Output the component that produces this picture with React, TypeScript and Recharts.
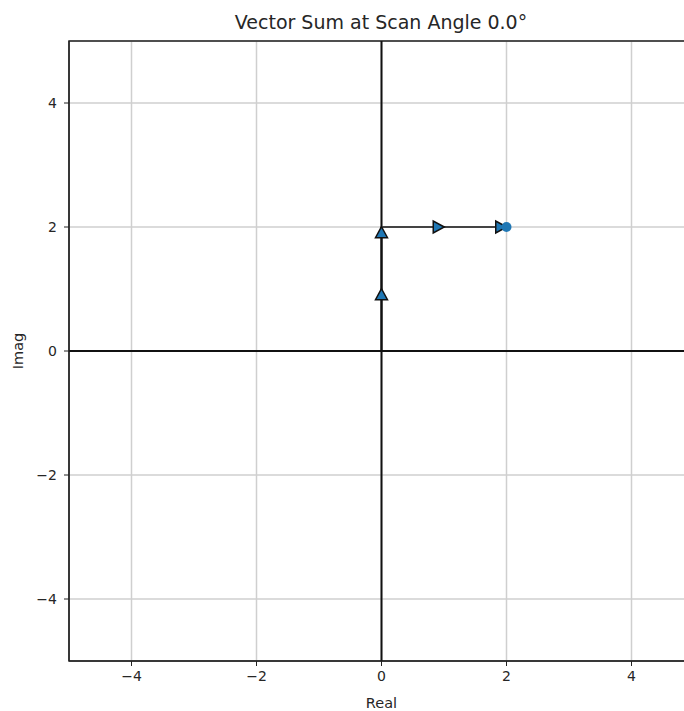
import React from "react";
import {
  ScatterChart,
  Scatter,
  XAxis,
  YAxis,
  CartesianGrid,
  ReferenceLine,
  ReferenceArea,
} from "recharts";

const ticks = [-4, -2, 0, 2, 4];
// first vector: straight up the imaginary axis, second along real
const verticalLeg = [
  { x: 0, y: 0 },
  { x: 0, y: 2 },
];
const horizontalLeg = [
  { x: 0, y: 2 },
  { x: 2, y: 2 },
];
const upArrows = [
  { x: 0, y: 0.9 },
  { x: 0, y: 1.9 },
];
const rightArrows = [
  { x: 0.9, y: 2 },
  { x: 1.9, y: 2 },
];
const sumPoint = [{ x: 2, y: 2 }];

const FONT = "DejaVu Sans, sans-serif";
const BLUE = "#1f77b4";
const TEXT = "#262626";

const fmt = (v: number) => (v < 0 ? `\u2212${-v}` : `${v}`);

const UpTriangle = (props: any) => {
  const { cx, cy } = props;
  return (
    <polygon
      points={`${cx},${cy - 6.5} ${cx - 6},${cy + 4.5} ${cx + 6},${cy + 4.5}`}
      fill={BLUE}
      stroke="#111"
      strokeWidth={1.5}
    />
  );
};

const RightTriangle = (props: any) => {
  const { cx, cy } = props;
  return (
    <polygon
      points={`${cx + 6.5},${cy} ${cx - 4.5},${cy - 6} ${cx - 4.5},${cy + 6}`}
      fill={BLUE}
      stroke="#111"
      strokeWidth={1.5}
    />
  );
};

const Dot = (props: any) => {
  const { cx, cy } = props;
  return <circle cx={cx} cy={cy} r={5} fill={BLUE} />;
};

const Nothing = () => <g />;

export default function App() {
  const tickStyle = { fill: TEXT, fontSize: 14, fontFamily: FONT };
  return (
    <div
      style={{
        position: "absolute",
        left: 0,
        top: 0,
        width: 684,
        height: 711,
        overflow: "hidden",
        background: "#fff",
      }}
    >
      <div
        style={{
          position: "absolute",
          left: 0,
          top: 11,
          width: 762,
          textAlign: "center",
          fontFamily: FONT,
          fontSize: 19,
          color: TEXT,
        }}
      >
        Vector Sum at Scan Angle 0.0°
      </div>
      <ScatterChart
        width={720}
        height={711}
        margin={{ top: 41, right: 26, bottom: 0, left: 0 }}
      >
        <CartesianGrid stroke="#cfcfcf" strokeWidth={1.5} />
        <XAxis
          type="number"
          dataKey="x"
          domain={[-5, 5]}
          ticks={ticks}
          tickFormatter={fmt}
          allowDataOverflow
          height={50}
          tick={tickStyle}
          tickSize={5}
          tickMargin={5}
          stroke="#222"
          label={{
            value: "Real",
            position: "insideBottom",
            offset: 3,
            style: { fill: TEXT, fontSize: 14.5, fontFamily: FONT },
          }}
        />
        <YAxis
          type="number"
          dataKey="y"
          domain={[-5, 5]}
          ticks={ticks}
          tickFormatter={fmt}
          allowDataOverflow
          width={69}
          tick={tickStyle}
          tickSize={5}
          tickMargin={7}
          stroke="#222"
          label={{
            content: (p: any) => {
              const vb = p.viewBox || {};
              const cy = (vb.y || 0) + (vb.height || 0) / 2;
              return (
                <text
                  x={23}
                  y={cy}
                  transform={`rotate(-90, 23, ${cy})`}
                  textAnchor="middle"
                  fill={TEXT}
                  fontSize={14.5}
                  fontFamily={FONT}
                >
                  Imag
                </text>
              );
            },
          }}
        />
        <ReferenceArea
          x1={-5}
          x2={5}
          y1={-5}
          y2={5}
          fill="none"
          stroke="#222"
          strokeWidth={1.5}
          fillOpacity={0}
        />
        <ReferenceLine x={0} stroke="#111" strokeWidth={2} />
        <ReferenceLine y={0} stroke="#111" strokeWidth={2} />
        <Scatter
          data={verticalLeg}
          line={{ stroke: "#111", strokeWidth: 2 }}
          lineType="joint"
          shape={<Nothing />}
          isAnimationActive={false}
        />
        <Scatter
          data={horizontalLeg}
          line={{ stroke: "#444", strokeWidth: 2 }}
          lineType="joint"
          shape={<Nothing />}
          isAnimationActive={false}
        />
        <Scatter data={upArrows} shape={<UpTriangle />} isAnimationActive={false} />
        <Scatter data={rightArrows} shape={<RightTriangle />} isAnimationActive={false} />
        <Scatter data={sumPoint} shape={<Dot />} isAnimationActive={false} />
      </ScatterChart>
    </div>
  );
}
